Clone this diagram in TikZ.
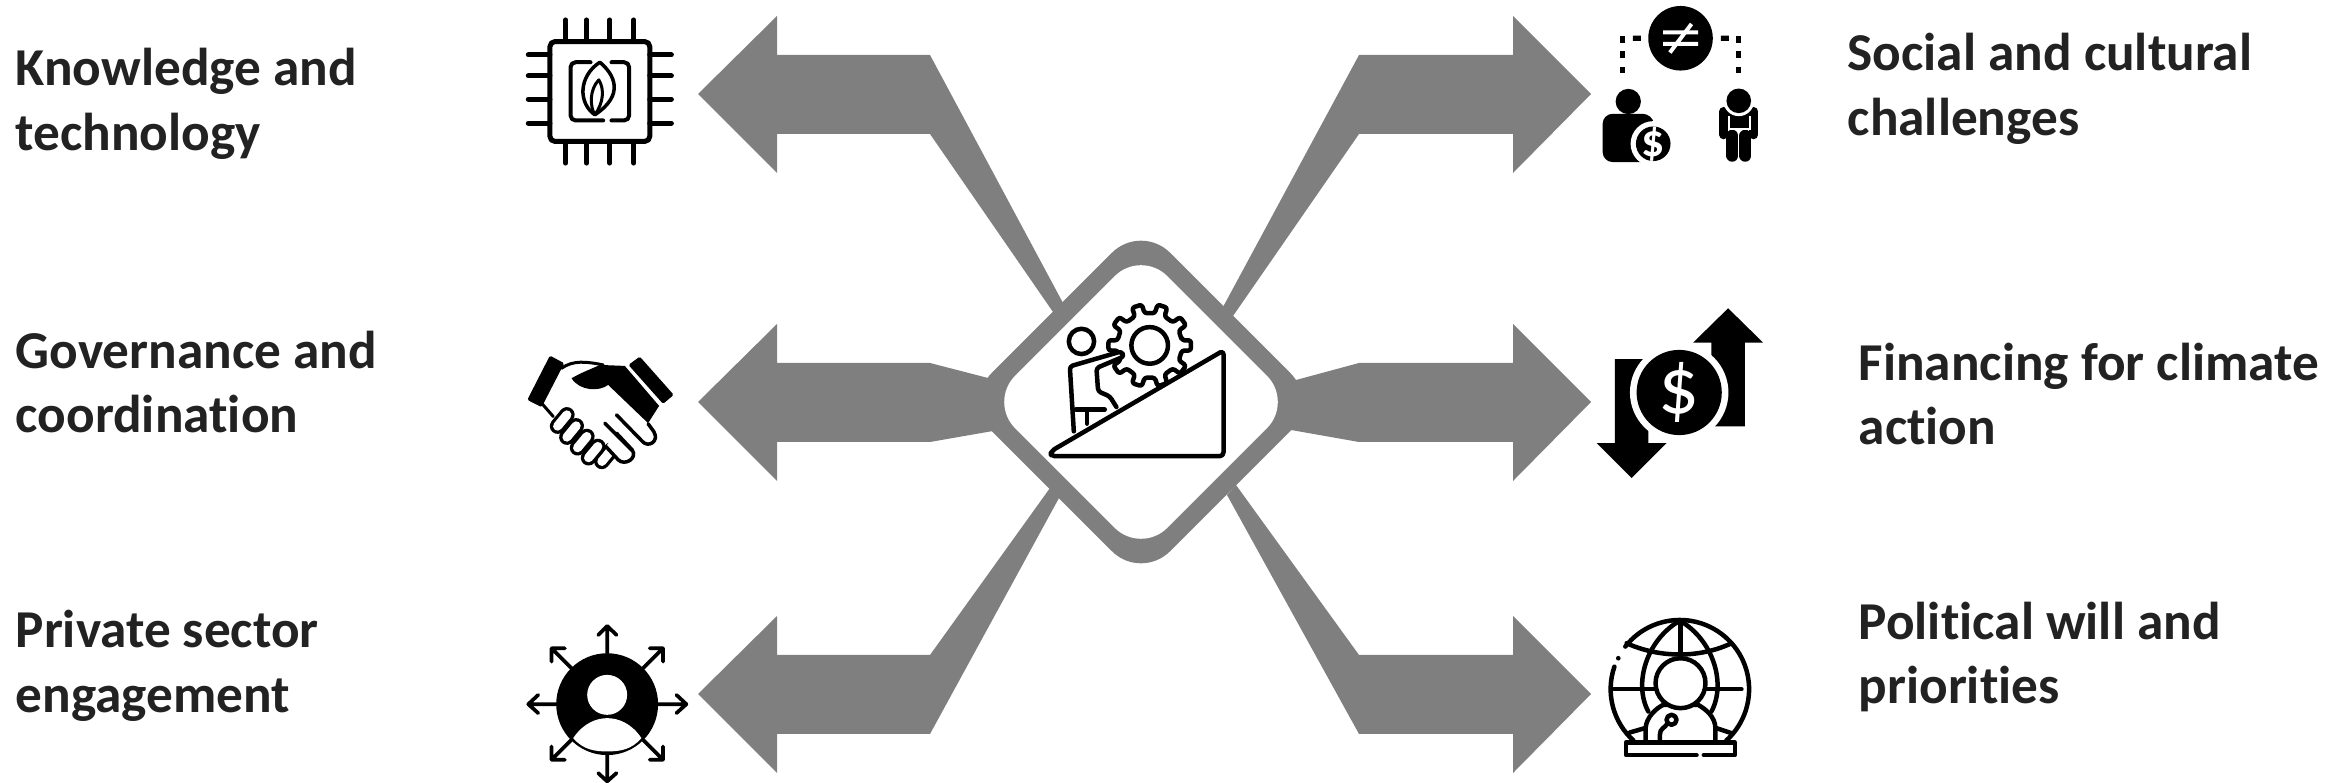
\documentclass[tikz,border=0pt]{standalone}
\usepackage{fontspec}
\setmainfont[Ligatures=NoCommon]{Carlito}
\usepackage{tikz}
\definecolor{armgray}{HTML}{7F7F7F}
\definecolor{txtdark}{HTML}{222222}
\begin{document}
\begin{tikzpicture}[x=0.01cm,y=-0.01cm,
  lab/.style={anchor=west,align=left,inner sep=0pt,text=txtdark,font=\fontsize{15.15}{18.4}\selectfont\bfseries},
  ln/.style={draw=black,line width=0.045cm,line cap=round,line join=round},
  icon/.style={x=0.00333cm,y=-0.00333cm},
  hubbox/.style={rectangle,rotate=45,inner sep=0pt}]
 \useasboundingbox (0,0) rectangle (2349,783);
 % hub
 \node[hubbox,fill=armgray,minimum size=2.52cm,rounded corners=0.41cm] (hubout) at (1141,402) {};
 % six arms
 \foreach \nm/\tx/\bx/\sx/\ty/\au/\bu/\av/\bv in {
   kt/698/777/930/94/1063/303/1053/312,
   gc/698/777/930/402/988/378/993/431,
   ps/698/777/930/694/1050/488/1059/498,
   sc/1591/1513/1359/94/1223/307/1233/316,
   fc/1591/1513/1359/402/1296/380/1291/430,
   pw/1591/1513/1359/694/1236/485/1227/495}{
   \coordinate (\nm) at (\tx,\ty);
   \fill[armgray] (\nm) -- (\bx,\ty-78) -- (\bx,\ty-39) -- (\sx,\ty-39) -- (\au,\bu)
     -- (\av,\bv) -- (\sx,\ty+40) -- (\bx,\ty+40) -- (\bx,\ty+79) -- cycle;
 }
 \node[hubbox,fill=white,minimum size=2.15cm,rounded corners=0.37cm] (hubin) at (1141,402) {};

 % labels
 \node[lab] (lkt) at (15,104) {Knowledge and\\technology};
 \node[lab] (lgc) at (15,382) {Governance and\\coordination};
 \node[lab] (lps) at (15,666) {Private sector\\engagement};
 \node[lab] (lsc) at (1847,89) {Social and cultural\\challenges};
 \node[lab] (lfc) at (1858,394) {Financing for climate\\action};
 \node[lab] (lpw) at (1858,657) {Political will and\\priorities};

 % hub icon
 \begin{scope}[shift={(950,200)},icon]
  \begin{scope}[shift={(600,437)}]
   \draw[ln,rounded corners=0.025cm] (-9:98)
     \foreach \a in {0,36,...,324}{
       -- ({\a-9}:98) -- ({\a-7}:125) -- ({\a+7}:125) -- ({\a+9}:98)} -- cycle;
   \draw[ln] (0,0) circle (55);
  \end{scope}
  \fill[white] (370,695) -- (358,505) -- (510,455) -- (525,470) -- (440,505) -- (445,570) -- (480,590) -- (500,625) -- cycle;
  \draw[ln,rounded corners=0.03cm] (372,695) -- (360,500) -- (515,455) -- (523,470) -- (440,505) -- (445,575) -- (480,590) -- (500,622);
  \draw[ln] (395,425) circle (38);
  \draw[ln] (378,630) -- (465,630) (412,630) -- (412,672);
  \draw[ln,fill=white,rounded corners=0.04cm] (303,755) -- (822,452) -- (822,770) -- (303,770) -- cycle;
 \end{scope}

 % chip
 \begin{scope}[shift={(500,0)},icon,ln/.append style={line width=0.05cm}]
  \draw[ln,rounded corners=0.05cm] (150,125) rectangle (450,425);
  \foreach \p in {197,260,330,402}{
   \draw[ln] (\p,60) -- (\p,125) (\p,425) -- (\p,490);}
  \foreach \p in {165,228,298,370}{
   \draw[ln] (85,\p) -- (150,\p) (450,\p) -- (515,\p);}
  \draw[ln,line width=0.04cm,rounded corners=0.05cm] (272,187) -- (212,187) -- (212,362) -- (310,362);
  \draw[ln,line width=0.04cm,rounded corners=0.05cm] (335,187) -- (388,187) -- (388,362) -- (335,362);
  \draw[ln,line width=0.035cm] (300,187) .. controls (345,225) and (375,285) .. (285,345)
     .. controls (235,310) and (235,230) .. (300,187);
  \draw[ln,line width=0.03cm] (297,240) .. controls (268,270) and (270,320) .. (285,345);
  \draw[ln,line width=0.03cm] (297,240) .. controls (315,270) and (310,310) .. (285,345);
 \end{scope}

 % handshake
 \begin{scope}[shift={(500,320)},icon]
  \fill[rounded corners=0.015cm] (150,107) -- (193,130) -- (125,262) -- (82,240) -- cycle;
  \fill[rounded corners=0.015cm] (420,110) -- (522,225) -- (490,252) -- (386,135) -- cycle;
  \fill (215,175) .. controls (250,155) and (280,145) .. (300,135) -- (375,138) -- (478,258) -- (445,310)
     -- (325,195) .. controls (300,215) and (240,215) .. (215,175) -- cycle;
  \draw[ln,line width=0.03cm] (185,145) .. controls (220,120) and (260,125) .. (310,135);
  \draw[ln,line width=0.03cm] (125,250) -- (160,290);
  \foreach \cx/\cy in {320/408,280/397,247/367,215/335,187/302}{
   \draw[line width=0.155cm,line cap=round] (\cx-14,\cy+17) -- (\cx+14,\cy-17);
   \draw[white,line width=0.09cm,line cap=round] (\cx-14,\cy+17) -- (\cx+14,\cy-17);}
  \draw[ln,line width=0.035cm,fill=white] (318,380) -- (355,420) .. controls (375,440) and (415,415) .. (397,390) -- (350,340);
  \draw[ln,line width=0.035cm] (315,310) -- (397,392);
  \draw[ln,line width=0.035cm,fill=white] (350,285) -- (428,365) .. controls (445,385) and (480,365) .. (462,335) -- (445,312);
 \end{scope}

 % person with arrows
 \begin{scope}[shift={(500,610)},icon,ln/.append style={line width=0.037cm}]
  \fill (322,283) circle (153);
  \fill[white] (322,255) circle (60);
  \fill[white] (220,385) .. controls (250,340) and (290,325) .. (322,325) .. controls (355,325) and (395,340) .. (425,385)
     .. controls (395,420) and (360,425) .. (322,425) .. controls (285,425) and (250,420) .. (220,385) -- cycle;
  \draw[ln] (322,130) -- (322,50) (295,75) -- (322,48) -- (350,75);
  \draw[ln] (322,435) -- (322,515) (295,490) -- (322,515) -- (350,490);
  \draw[ln] (170,283) -- (85,283) (115,255) -- (85,283) -- (115,310);
  \draw[ln] (475,283) -- (560,283) (530,255) -- (560,283) -- (530,310);
  \draw[ln] (430,175) -- (490,115) (450,115) -- (490,115) -- (490,155);
  \draw[ln] (215,175) -- (155,115) (195,115) -- (155,115) -- (155,155);
  \draw[ln] (215,390) -- (155,450) (155,410) -- (155,450) -- (195,450);
  \draw[ln] (430,390) -- (490,450) (450,450) -- (490,450) -- (490,410);
 \end{scope}

 % inequality
 \begin{scope}[shift={(1580,0)},icon]
  \fill (302,115) circle (97);
  \fill[white] (250,91) rectangle (355,103) (250,126) rectangle (355,138);
  \draw[white,line width=0.04cm] (270,158) -- (335,72);
  \foreach \dx/\dy in {128/118,128/163,128/210,477/118,477/163,477/210}{
   \fill (\dx-8,\dy-10) rectangle (\dx+8,\dy+10);}
  \fill (159,107) rectangle (183,123) (423,107) rectangle (447,123);
  \fill (145,305) circle (38);
  \fill[rounded corners=0.1cm] (68,487) -- (68,342) -- (218,342) -- (240,487) -- cycle;
  \fill[white] (220,432) circle (68);
  \fill (220,432) circle (52);
  \node[text=white,inner sep=0pt,font=\fontsize{13}{13}\selectfont\bfseries] (usd) at (220,432) {\$};
  \fill (440,320) rectangle (515,390);
  \draw[line width=0.09cm,line cap=round] (432,335) -- (432,405) (522,335) -- (522,405);
  \draw[line width=0.12cm,line cap=round] (458,408) -- (458,468) (497,408) -- (497,468);
  \draw[white,line width=0.017cm] (447,350) -- (447,388) -- (510,388) -- (510,350);
  \fill[white] (477,303) circle (46);
  \fill (477,303) circle (37);
 \end{scope}

 % money
 \begin{scope}[shift={(1580,290)},icon]
  \fill (445,55) -- (550,158) -- (495,158) -- (495,410) -- (395,410) -- (395,158) -- (340,158) -- cycle;
  \fill (155,565) -- (50,460) -- (105,460) -- (105,208) -- (205,208) -- (205,460) -- (260,460) -- cycle;
  \fill[white] (298,308) circle (148);
  \fill (298,308) circle (128);
  \node[text=white,inner sep=0pt,font=\fontsize{23}{23}\selectfont] (dollar) at (298,308) {\$};
 \end{scope}

 % globe
 \begin{scope}[shift={(1580,600)},icon]
  \draw[ln] (300,268) ++(48:208) arc (48:-142:208);
  \draw[ln] (300,268) ++(-161:208) arc (-161:-228:208);
  \fill (115,175) circle (7);
  \draw[ln] (140,130) .. controls (240,175) and (360,175) .. (455,130);
  \draw[ln] (302,62) -- (302,175);
  \draw[ln] (300,62) .. controls (200,120) and (160,250) .. (205,335);
  \draw[ln] (300,62) .. controls (400,120) and (440,250) .. (395,335);
  \draw[ln] (100,268) -- (225,268) (380,268) -- (485,268);
  \draw[ln] (150,398) -- (195,385) (410,385) -- (455,400);
  \draw[ln,fill=white] (197,425) -- (197,385) .. controls (200,350) and (230,325) .. (250,315)
     -- (355,315) .. controls (380,330) and (405,350) .. (407,385) -- (407,425);
  \draw[ln,fill=white] (302,250) circle (75);
  \draw[ln] (240,425) -- (240,405) .. controls (240,385) and (255,385) .. (262,372);
  \draw[ln] (275,360) circle (15);
  \draw[ln] (350,466) -- (138,466) -- (138,428) -- (465,428) -- (465,466) -- (372,466);
 \end{scope}
\end{tikzpicture}
\end{document}
